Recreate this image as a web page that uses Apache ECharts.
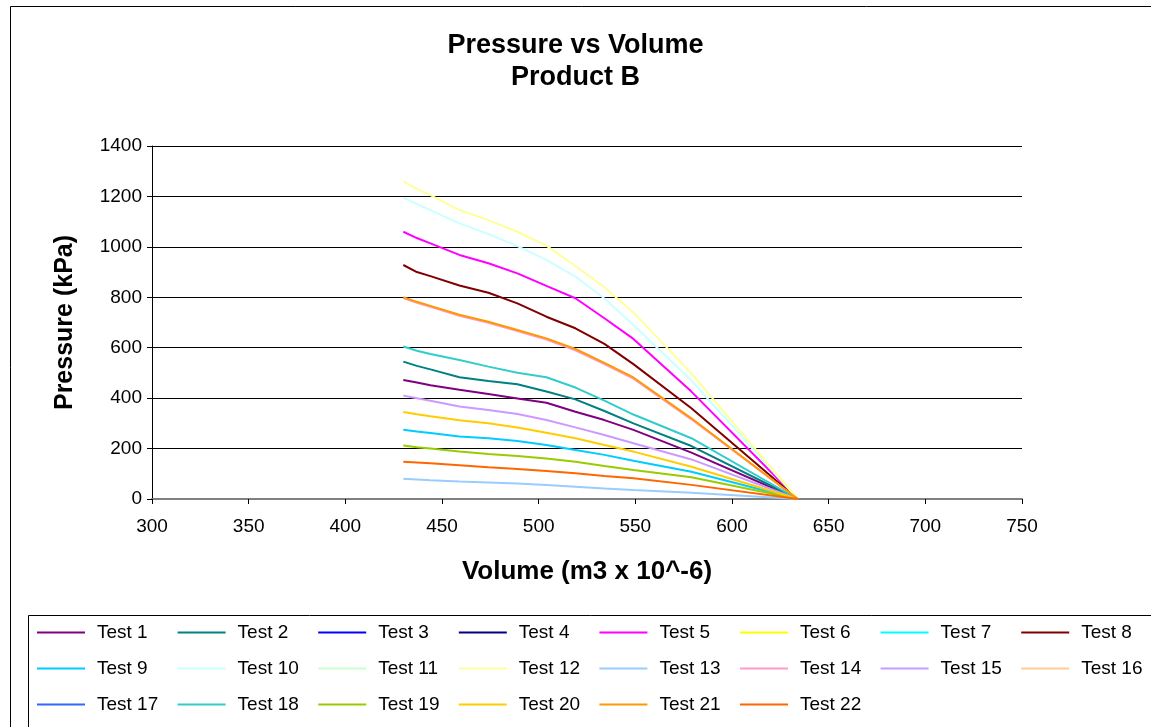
<!DOCTYPE html>
<html>
<head>
<meta charset="utf-8">
<script src="https://cdn.jsdelivr.net/npm/echarts@6/dist/echarts.min.js"></script>
<style>
  html, body { margin: 0; padding: 0; background: #fff; }
  #chart { width: 1151px; height: 727px; }
</style>
</head>
<body>
<div id="chart"></div>
<script>
// Volume readings (m3 x 10^-6) shared by every test run
const volumes = [430, 437, 444, 459, 474, 489, 504, 519, 534, 549, 579, 634];

// Pressure (kPa) per test at each volume; empty runs have no recorded curve
const test1  = [472, 462, 451, 433, 416, 399, 382, 346, 313, 274, 184, 0];
const test2  = [545, 528, 514, 483, 468, 455, 426, 395, 349, 300, 210, 0];
const test3  = [];
const test4  = [];
const test5  = [1060, 1035, 1014, 968, 935, 895, 845, 796, 717, 635, 426, 0];
const test6  = [];
const test7  = [];
const test8  = [928, 900, 884, 847, 818, 776, 723, 677, 615, 535, 360, 0];
const test9  = [275, 268, 262, 248, 241, 230, 214, 194, 175, 152, 108, 0];
const test10 = [1195, 1170, 1146, 1093, 1051, 1003, 948, 882, 795, 690, 470, 0];
const test11 = [];
const test12 = [1260, 1230, 1205, 1146, 1106, 1060, 1005, 924, 840, 740, 498, 0];
const test13 = [80, 77, 74, 69, 65, 61, 56, 49, 42, 36, 25, 0];
const test14 = [797, 778, 762, 727, 699, 666, 632, 590, 535, 477, 316, 0];
const test15 = [410, 400, 390, 367, 353, 337, 313, 284, 254, 221, 157, 0];
const test16 = [];
const test17 = [];
const test18 = [605, 588, 575, 551, 525, 501, 483, 442, 390, 335, 241, 0];
const test19 = [212, 205, 200, 188, 178, 171, 161, 148, 131, 115, 86, 0];
const test20 = [345, 336, 328, 312, 300, 284, 263, 241, 214, 188, 128, 0];
const test21 = [800, 782, 766, 731, 703, 670, 637, 595, 540, 482, 320, 0];
const test22 = [148, 145, 142, 134, 126, 119, 111, 102, 91, 82, 56, 0];

const testNames = Array.from({ length: 22 }, (_, i) => 'Test ' + (i + 1));
const testValues = [test1, test2, test3, test4, test5, test6, test7, test8, test9, test10, test11,
  test12, test13, test14, test15, test16, test17, test18, test19, test20, test21, test22];

// Classic spreadsheet line palette
const lineColors = ['#800080', '#008080', '#0000FF', '#000080', '#FF00FF', '#FFFF00', '#00FFFF',
  '#800000', '#00CCFF', '#CCFFFF', '#CCFFCC', '#FFFF99', '#99CCFF', '#FF99CC', '#CC99FF',
  '#FFCC99', '#3366FF', '#33CCCC', '#99CC00', '#FFCC00', '#FF9900', '#FF6600'];

const xTicks = { min: 300, max: 750, interval: 50 };
const yTicks = { min: 0, max: 1400, interval: 200 };

const FONT = '"Liberation Sans", Arial, sans-serif';

const series = testNames.map((name, i) => ({
  name,
  type: 'line',
  symbol: 'none',
  smooth: false,
  color: lineColors[i],
  lineStyle: { width: 2, color: lineColors[i] },
  data: testValues[i].map((p, k) => [volumes[k], p]),
  animation: false
}));

// Legend laid out as 8 fixed-pitch columns, each holding up to three tests
const legends = [];
for (let c = 0; c < 8; c++) {
  const names = [c, c + 8, c + 16].filter(i => i < 22).map(i => testNames[i]);
  legends.push({
    orient: 'vertical',
    left: 31 + c * 140.6,
    top: 618,
    itemWidth: 48,
    itemHeight: 14,
    itemGap: 17,
    data: names,
    selectedMode: false,
    itemStyle: { opacity: 0 },
    textStyle: { fontFamily: FONT, fontSize: 19, color: '#000', padding: [0, 0, 0, 7] }
  });
}

const chart = echarts.init(document.getElementById('chart'), null, { renderer: 'canvas' });
chart.setOption({
  backgroundColor: '#fff',
  animation: false,
  title: {
    text: 'Pressure vs Volume\nProduct B',
    left: 'center',
    top: 25,
    textStyle: { fontFamily: FONT, fontSize: 27, fontWeight: 'bold', color: '#000', lineHeight: 32 }
  },
  graphic: [
    { type: 'rect', shape: { x: 10.5, y: 6.5, width: 1200, height: 900 },
      style: { fill: 'none', stroke: '#000', lineWidth: 1 }, z: -1 },
    { type: 'rect', shape: { x: 28.5, y: 615.5, width: 1200, height: 300 },
      style: { fill: 'none', stroke: '#000', lineWidth: 1 }, z: -1 }
  ],
  legend: legends,
  grid: { left: 152, right: 129, top: 146, bottom: 228, containLabel: false },
  xAxis: {
    type: 'value',
    min: xTicks.min, max: xTicks.max, interval: xTicks.interval,
    name: 'Volume (m3 x 10^-6)',
    nameLocation: 'middle',
    nameGap: 60,
    nameTextStyle: { fontFamily: FONT, fontSize: 26, fontWeight: 'bold', color: '#000' },
    axisLine: { show: true, onZero: false, lineStyle: { color: '#808080', width: 2 } },
    axisTick: { show: true, inside: false, length: 5, lineStyle: { color: '#000' } },
    axisLabel: { fontFamily: FONT, fontSize: 19, color: '#000', margin: 18 },
    splitLine: { show: false }
  },
  yAxis: {
    type: 'value',
    min: yTicks.min, max: yTicks.max, interval: yTicks.interval,
    name: 'Pressure (kPa)',
    nameLocation: 'middle',
    nameGap: 74,
    nameTextStyle: { fontFamily: FONT, fontSize: 25, fontWeight: 'bold', color: '#000' },
    axisLine: { show: true, lineStyle: { color: '#000', width: 1 } },
    axisTick: { show: true, inside: false, length: 5, lineStyle: { color: '#000' } },
    axisLabel: { fontFamily: FONT, fontSize: 19, color: '#000', margin: 10,
      formatter: v => String(v) },
    splitLine: { show: true, lineStyle: { color: '#000', width: 1 } }
  },
  series
});
</script>
</body>
</html>
